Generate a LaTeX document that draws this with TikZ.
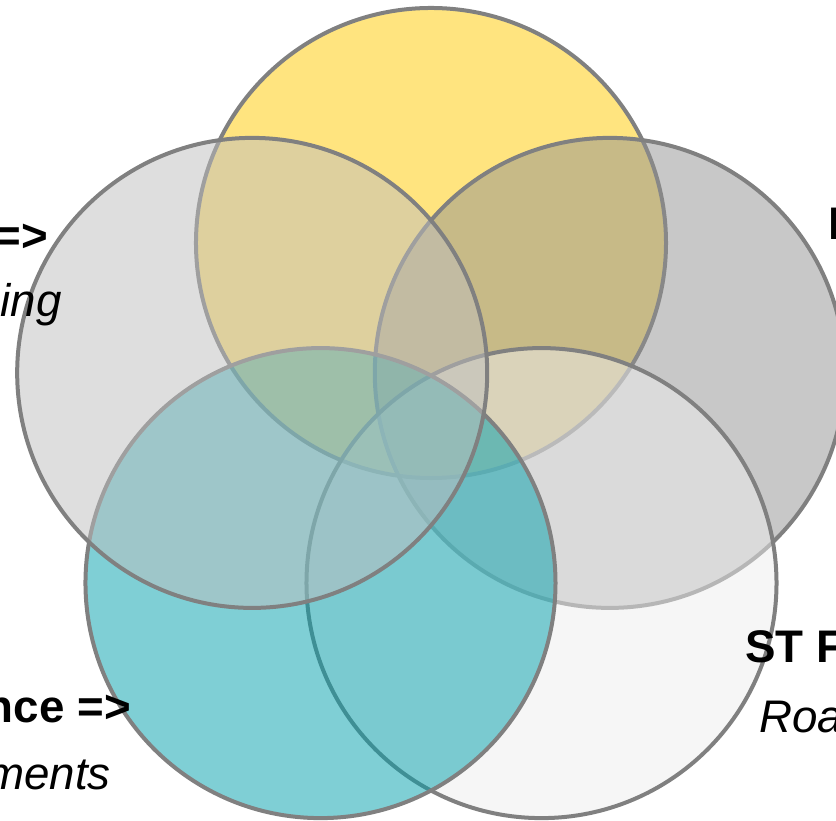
\documentclass[tikz,border=0pt]{standalone}
\usepackage{fontspec}
\setmainfont{Liberation Sans}
\usetikzlibrary{positioning}

\definecolor{vyellow}{RGB}{255,201,0}
\definecolor{vdark}{RGB}{145,145,145}
\definecolor{vlight}{RGB}{237,237,237}
\definecolor{vteal}{RGB}{0,159,171}
\definecolor{vgrey}{RGB}{190,190,190}
\definecolor{vedge}{RGB}{128,128,128}

\begin{document}
\begin{tikzpicture}[x=0.03cm, y=0.03cm,
        venn/.style={circle, draw=vedge, line width=0.12cm, fill opacity=0.5,
            minimum size=14.1cm, inner sep=0pt},
        lbl/.style={inner sep=0pt, font=\fontsize{39}{47}\selectfont}]
        \useasboundingbox (-431,-390) rectangle (405,431);

        % circles, later ones lie over the earlier ones
        \node[venn, fill=vyellow] (top) at (90:188) {};
        \node[venn, fill=vdark] (right) at (18:188) {};
        \node[venn, fill=vlight] (lowright) at (-54:188) {};
        \node[venn, fill=vteal] (lowleft) at (234:188) {};
        \node[venn, fill=vgrey] (left) at (162:188) {};

        % labels
        \node[lbl, anchor=base east, font=\fontsize{39}{47}\selectfont\bfseries] (lefthead) at (-383,179) {=>};
        \node[lbl, anchor=base east, font=\fontsize{39}{47}\selectfont\itshape] (lefttext) at (-369,114) {ing};
        \node[lbl, anchor=base west, font=\fontsize{39}{47}\selectfont\bfseries] (righthead) at (397,191) {I};
        \node[lbl, anchor=base east, font=\fontsize{39}{47}\selectfont\bfseries] (lowlefthead) at (-300,-292) {nce =>};
        \node[lbl, anchor=base east, font=\fontsize{39}{47}\selectfont\itshape] (lowlefttext) at (-320,-359) {ments};
        \node[lbl, anchor=base west, font=\fontsize{39}{47}\selectfont\bfseries] (lowrighthead) at (314,-232) {ST F};
        \node[lbl, anchor=base west, font=\fontsize{39}{47}\selectfont\itshape] (lowrighttext) at (328,-302) {Roa};
    \end{tikzpicture}
\end{document}
